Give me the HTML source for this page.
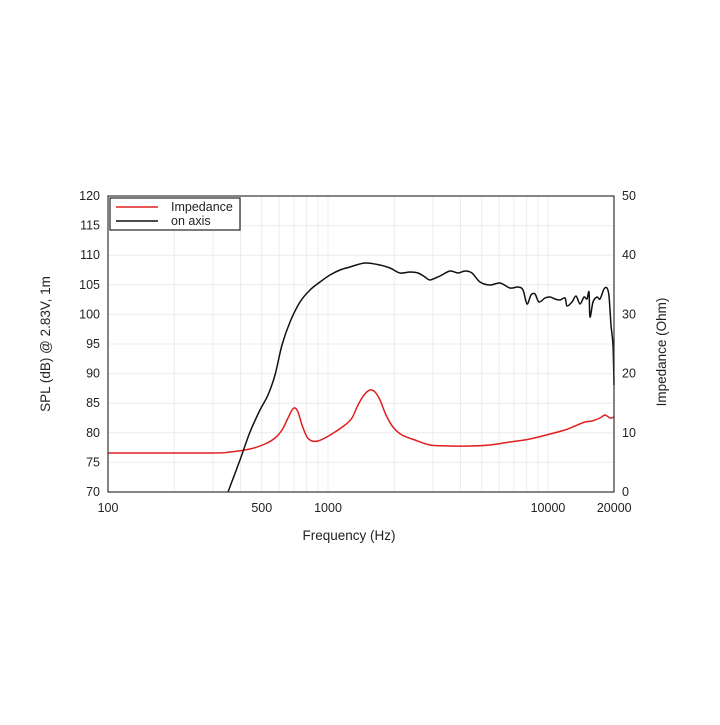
<!DOCTYPE html>
<html><head><meta charset="utf-8"><style>
html,body{margin:0;padding:0;background:#fff}
text{font-family:"Liberation Sans","DejaVu Sans",sans-serif;font-size:12.5px;fill:#222}
</style></head><body>
<svg width="720" height="720" viewBox="0 0 720 720" xmlns="http://www.w3.org/2000/svg">
<rect width="720" height="720" fill="#fff"/>
<g id="grid" stroke="#ececec" stroke-width="1"></g>
<path id="red" fill="none" stroke="#e02020" stroke-width="1.5" stroke-linejoin="round"/>
<path id="blk" fill="none" stroke="#111" stroke-width="1.5" stroke-linejoin="round"/>
<rect x="108" y="196" width="506" height="296" fill="none" stroke="#333" stroke-width="1.2"/>
<g id="labels"></g>
<rect x="110" y="198" width="130" height="32" fill="#fff" stroke="#222" stroke-width="1.2"/>
<line x1="116" y1="207" x2="158" y2="207" stroke="#e02020" stroke-width="1.5"/>
<line x1="116" y1="221" x2="158" y2="221" stroke="#111" stroke-width="1.5"/>
<text x="171" y="211">Impedance</text>
<text x="171" y="225">on axis</text>
<text x="349" y="540" text-anchor="middle" style="font-size:13.5px">Frequency (Hz)</text>
<text transform="translate(50,344) rotate(-90)" text-anchor="middle" style="font-size:13.5px">SPL (dB) @ 2.83V, 1m</text>
<text transform="translate(666,352) rotate(-90)" text-anchor="middle" style="font-size:13.5px">Impedance (Ohm)</text>
</svg>
<script>
var ns="http://www.w3.org/2000/svg",g=document.getElementById('grid'),L=document.getElementById('labels');
function ln(x1,y1,x2,y2){var l=document.createElementNS(ns,'line');l.setAttribute('x1',x1);l.setAttribute('y1',y1);l.setAttribute('x2',x2);l.setAttribute('y2',y2);g.appendChild(l);}
function tx(x,y,s,a){var t=document.createElementNS(ns,'text');t.setAttribute('x',x);t.setAttribute('y',y);t.setAttribute('text-anchor',a);t.textContent=s;L.appendChild(t);}
function X(f){return 108+Math.log10(f/100)*220;}
[100,1000,10000].forEach(function(d){for(var k=1;k<10;k++){var f=d*k;if(f>100&&f<20000)ln(X(f),196,X(f),492);}});
for(var v=75;v<120;v+=5){var y=492-(v-70)*5.92;ln(108,y,614,y);}
for(var v=70;v<=120;v+=5){var y=492-(v-70)*5.92;tx(100,y+4,v,'end');}
for(var v=0;v<=50;v+=10){var y=492-v*5.92;tx(622,y+4,v,'start');}
[[100,'100'],[500,'500'],[1000,'1000'],[10000,'10000'],[20000,'20000']].forEach(function(p){tx(X(p[0]),512,p[1],'middle');});
function smooth(s){var a=s.trim().split(/\s+/).map(function(q){return q.split(',').map(Number);});
var d='M'+a[0][0]+','+a[0][1];
for(var i=0;i<a.length-1;i++){var p0=a[Math.max(0,i-1)],p1=a[i],p2=a[i+1],p3=a[Math.min(a.length-1,i+2)];
var t=0.16;d+=' C'+(p1[0]+(p2[0]-p0[0])*t)+','+(p1[1]+(p2[1]-p0[1])*t)+' '+(p2[0]-(p3[0]-p1[0])*t)+','+(p2[1]-(p3[1]-p1[1])*t)+' '+p2[0]+','+p2[1];}
return d;}
document.getElementById('red').setAttribute('d',smooth("108,453 210,453 230,452 250,449 265,444 275,438 282,430 288,418 292,410 295,408 298,412 302,425 307,437 312,441 318,441 325,438 335,432 345,425 352,418 358,405 364,395 370,390 375,392 380,400 386,415 393,427 402,435 415,440 430,445 450,446 470,446 490,445 510,442 530,439 550,434 565,430 575,426 585,422 592,421 600,418 605,415 610,418 614,417"));
document.getElementById('blk').setAttribute('d',smooth("228,492 240,460 250,432 260,410 268,395 275,375 282,345 290,322 300,302 310,290 320,282 330,275 340,270 350,267 365,263 380,265 390,268 400,273 410,272 418,273 425,277 430,280 440,276 450,271 458,273 465,271 472,273 480,282 490,285 500,283 510,288 518,287 523,290 527,304 531,295 535,294 539,302 545,298 550,297 555,299 560,300 565,298 567,306 572,302 576,296 580,304 584,297 587,299 589,292 590,317 593,302 597,297 600,299 604,289 607,288 609,296 611,325 613,345 614,385"));
</script>
</body></html>
